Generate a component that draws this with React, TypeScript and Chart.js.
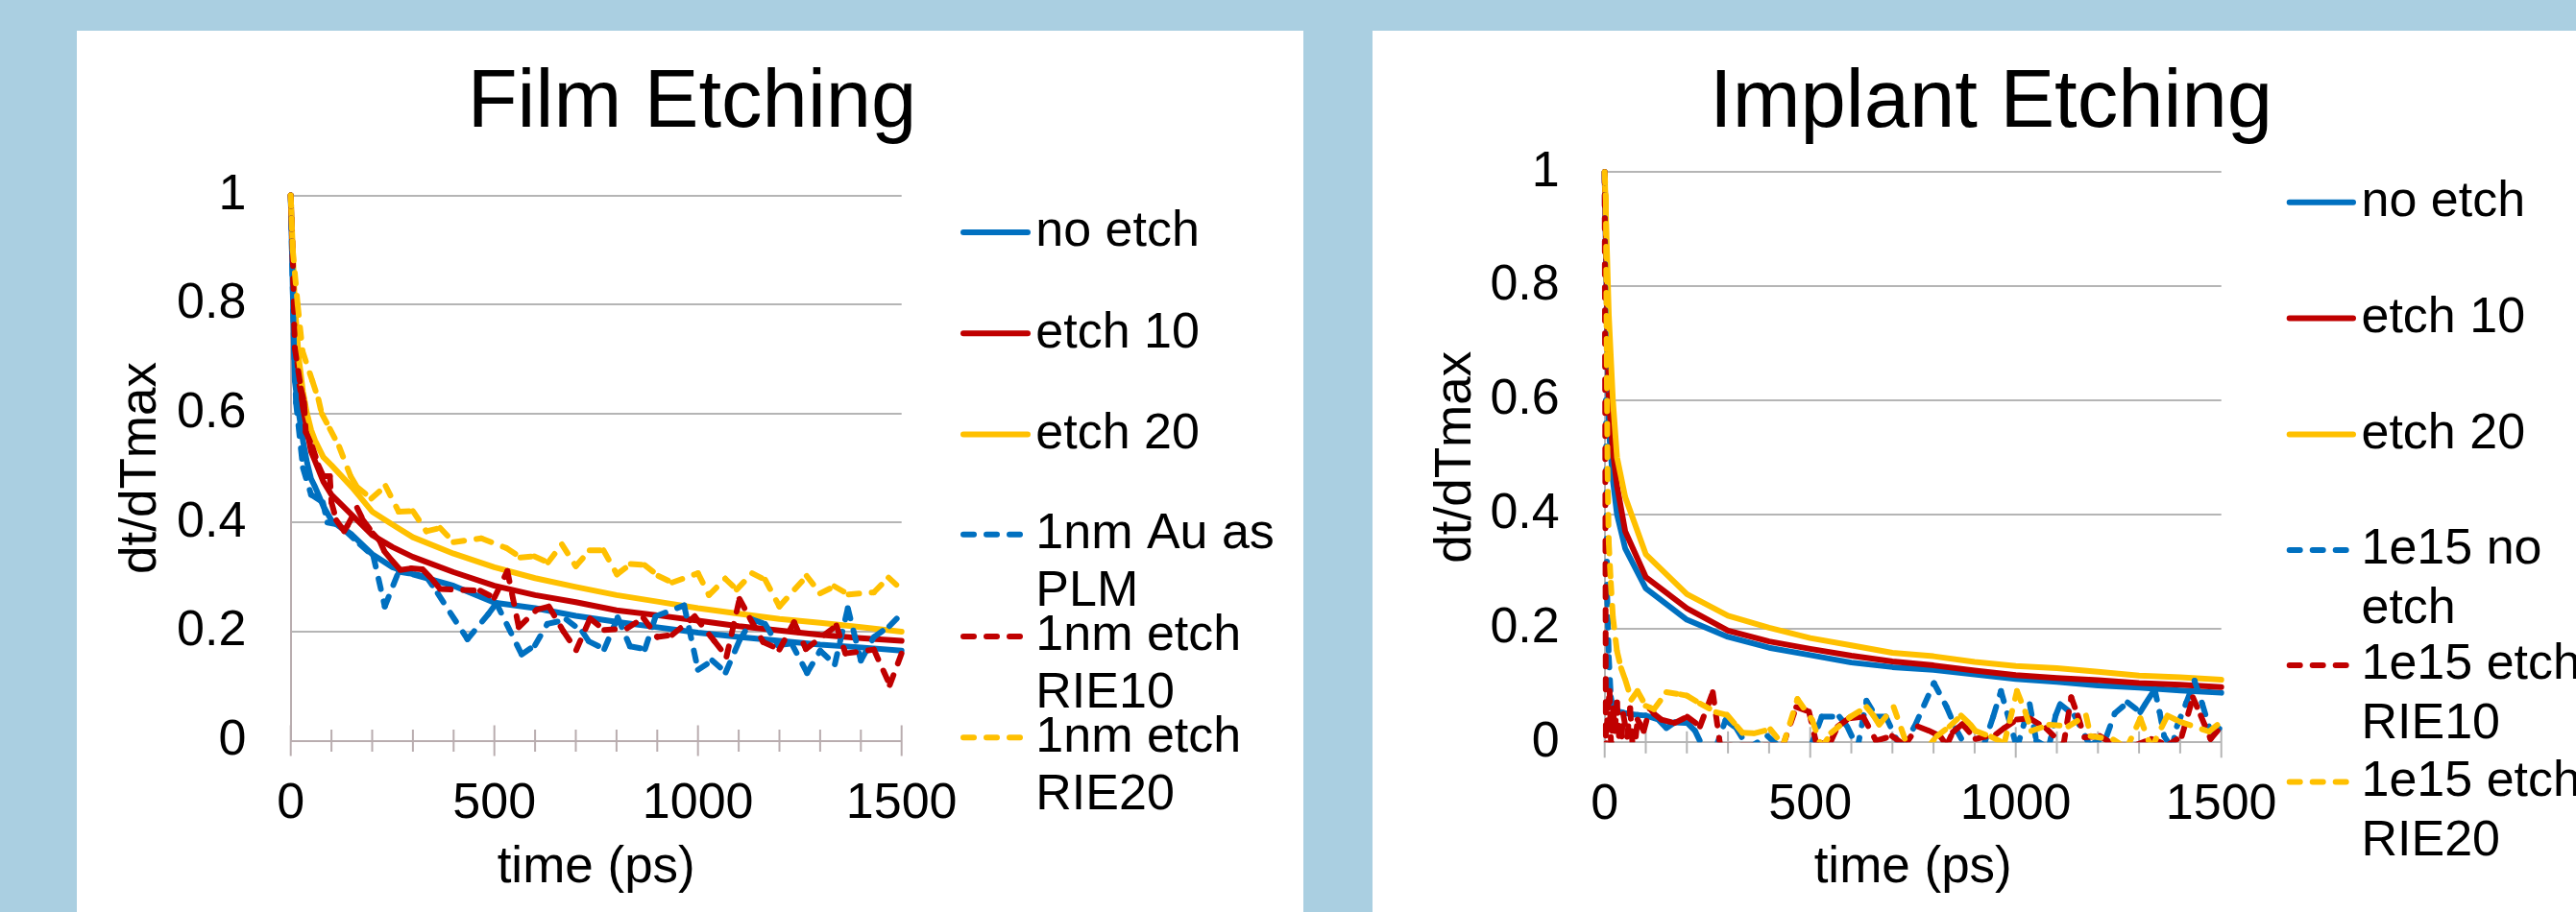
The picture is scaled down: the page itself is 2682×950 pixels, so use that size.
import React, { useEffect, useRef } from 'react';
import { Chart, registerables } from 'chart.js';

Chart.register(...registerables);

// ---------------- DATA ----------------
const BLUE = '#0070C0';
const RED = '#C00000';
const YELLOW = '#FFC000';

// Film Etching – solid series
const filmSolidT = [0, 10, 20, 30, 40, 50, 60, 80, 100, 150, 200, 250, 300, 400, 500, 600, 700, 800, 900, 1000, 1100, 1200, 1300, 1400, 1500];
const filmNoEtch = [1.0, 0.66, 0.6, 0.55, 0.51, 0.48, 0.465, 0.43, 0.404, 0.378, 0.342, 0.318, 0.305, 0.284, 0.253, 0.243, 0.229, 0.218, 0.208, 0.198, 0.19, 0.183, 0.176, 0.171, 0.165];
const filmEtch10 = [1.0, 0.75, 0.66, 0.61, 0.57, 0.53, 0.512, 0.475, 0.451, 0.414, 0.377, 0.355, 0.337, 0.309, 0.284, 0.267, 0.254, 0.239, 0.23, 0.22, 0.21, 0.202, 0.194, 0.188, 0.183];
const filmEtch20 = [1.0, 0.8, 0.7, 0.64, 0.6, 0.57, 0.55, 0.52, 0.505, 0.465, 0.42, 0.396, 0.373, 0.343, 0.318, 0.298, 0.282, 0.267, 0.255, 0.243, 0.233, 0.223, 0.216, 0.208, 0.2];

// Film Etching – dashed series
const filmPlmT = [0, 8, 13, 30, 50, 79, 90, 112, 135, 170, 203, 231, 265, 305, 333, 361, 434, 485, 505, 567, 600, 630, 677, 716, 732, 770, 803, 833, 870, 896, 966, 1000, 1035, 1068, 1102, 1133, 1165, 1196, 1230, 1268, 1300, 1336, 1368, 1400, 1432, 1470, 1500];
const filmPlmV = [1.0, 0.72, 0.62, 0.5, 0.451, 0.437, 0.4, 0.397, 0.384, 0.36, 0.338, 0.246, 0.31, 0.305, 0.301, 0.27, 0.186, 0.232, 0.252, 0.158, 0.175, 0.214, 0.222, 0.2, 0.182, 0.168, 0.226, 0.173, 0.168, 0.228, 0.248, 0.13, 0.147, 0.125, 0.184, 0.222, 0.214, 0.175, 0.178, 0.124, 0.165, 0.14, 0.243, 0.147, 0.19, 0.21, 0.233];
const filmRie10T = [0, 5, 10, 25, 33, 37, 53, 68, 80, 96, 100, 112, 131, 139, 163, 178, 202, 218, 230, 249, 269, 296, 324, 347, 367, 465, 500, 532, 560, 604, 634, 670, 701, 735, 770, 826, 866, 900, 937, 992, 1040, 1070, 1102, 1127, 1160, 1200, 1236, 1265, 1340, 1362, 1432, 1471, 1500];
const filmRie10V = [1.0, 0.89, 0.72, 0.646, 0.62, 0.566, 0.539, 0.505, 0.485, 0.485, 0.437, 0.404, 0.384, 0.394, 0.427, 0.404, 0.38, 0.367, 0.347, 0.33, 0.313, 0.316, 0.314, 0.296, 0.278, 0.275, 0.262, 0.311, 0.208, 0.24, 0.246, 0.2, 0.166, 0.224, 0.203, 0.206, 0.225, 0.19, 0.194, 0.228, 0.183, 0.154, 0.26, 0.225, 0.181, 0.167, 0.217, 0.168, 0.211, 0.16, 0.167, 0.102, 0.16];
const filmRie20T = [0, 5, 17, 29, 53, 68, 76, 96, 119, 147, 163, 198, 233, 265, 300, 333, 367, 400, 468, 530, 564, 598, 632, 666, 700, 734, 768, 801, 835, 869, 903, 937, 1000, 1027, 1067, 1095, 1133, 1165, 1200, 1267, 1300, 1335, 1370, 1432, 1468, 1500];
const filmRie20V = [1.0, 0.9, 0.8, 0.714, 0.66, 0.626, 0.6, 0.572, 0.539, 0.485, 0.465, 0.444, 0.467, 0.42, 0.421, 0.384, 0.39, 0.364, 0.371, 0.353, 0.336, 0.338, 0.327, 0.36, 0.32, 0.349, 0.349, 0.305, 0.324, 0.322, 0.302, 0.29, 0.307, 0.267, 0.297, 0.277, 0.307, 0.295, 0.246, 0.302, 0.27, 0.283, 0.268, 0.272, 0.299, 0.277];

// Implant Etching – solid series
const implSolidT = [0, 10, 20, 30, 50, 100, 200, 300, 400, 500, 600, 700, 800, 900, 1000, 1100, 1200, 1300, 1400, 1500];
const implNoEtch = [1.0, 0.55, 0.46, 0.4, 0.34, 0.27, 0.215, 0.185, 0.166, 0.153, 0.14, 0.132, 0.127, 0.119, 0.111, 0.106, 0.1, 0.096, 0.091, 0.087];
const implEtch10 = [1.0, 0.6, 0.51, 0.45, 0.37, 0.29, 0.235, 0.196, 0.177, 0.164, 0.152, 0.142, 0.135, 0.126, 0.118, 0.113, 0.109, 0.104, 0.101, 0.097];
const implEtch20 = [1.0, 0.75, 0.6, 0.5, 0.43, 0.33, 0.26, 0.222, 0.201, 0.183, 0.17, 0.157, 0.151, 0.141, 0.134, 0.13, 0.124, 0.117, 0.114, 0.11];

// Implant Etching – dashed series
const implNoT = [0, 3, 6, 10, 15, 20, 30, 45, 60, 80, 100, 130, 150, 170, 201, 220, 240, 270, 294, 320, 350, 396, 430, 470, 500, 528, 571, 590, 615, 637, 660, 684, 720, 754, 801, 832, 855, 880, 920, 945, 964, 1003, 1034, 1050, 1080, 1097, 1108, 1143, 1180, 1221, 1241, 1272, 1303, 1319, 1338, 1350, 1361, 1380, 1392, 1415, 1435, 1454, 1477, 1500];
const implNoV = [1.0, 0.6, 0.26, 0.15, 0.08, 0.06, 0.055, 0.052, 0.05, 0.048, 0.047, 0.04, 0.025, 0.035, 0.034, 0.02, -0.01, -0.01, 0.039, 0.025, -0.01, 0.011, -0.01, -0.01, -0.01, 0.045, 0.045, 0.028, -0.01, 0.073, 0.045, 0.045, -0.01, 0.028, 0.104, 0.062, 0.023, -0.01, -0.01, 0.045, 0.09, -0.01, 0.067, 0.003, -0.01, 0.047, 0.067, 0.047, -0.005, 0.011, 0.051, 0.07, 0.053, 0.072, 0.093, 0.053, 0.011, -0.01, 0.028, 0.07, 0.108, 0.067, 0.011, 0.028];
const implRie10T = [0, 3, 8, 12, 16, 20, 25, 30, 38, 45, 55, 62, 70, 80, 95, 110, 120, 138, 170, 201, 232, 263, 281, 333, 434, 466, 497, 516, 551, 567, 594, 629, 660, 699, 730, 762, 790, 816, 832, 847, 870, 902, 952, 972, 1003, 1034, 1073, 1116, 1135, 1151, 1167, 1205, 1240, 1291, 1330, 1370, 1404, 1431, 1450, 1474, 1500];
const implRie10V = [1.0, -0.02, 0.06, 0.09, -0.02, 0.06, 0.02, 0.07, -0.03, 0.05, 0.01, 0.06, -0.03, 0.04, 0.02, 0.06, 0.05, 0.04, 0.034, 0.045, 0.028, 0.088, -0.005, -0.005, -0.005, 0.062, 0.054, -0.005, 0.003, 0.028, 0.042, 0.045, 0.003, 0.011, -0.005, 0.028, 0.02, 0.011, -0.005, 0.018, 0.032, 0.006, 0.014, 0.025, 0.04, 0.042, 0.025, -0.005, 0.079, 0.047, 0.009, 0.011, -0.005, -0.005, 0.006, -0.005, 0.011, 0.079, 0.047, 0.006, 0.028];
const implRie20T = [0, 3, 5, 7, 10, 15, 20, 30, 40, 50, 65, 80, 100, 120, 150, 185, 200, 232, 271, 298, 322, 335, 364, 403, 434, 469, 505, 528, 551, 598, 637, 653, 668, 703, 738, 785, 808, 839, 867, 890, 902, 940, 972, 1003, 1023, 1038, 1081, 1128, 1171, 1182, 1237, 1270, 1303, 1330, 1369, 1400, 1470, 1500];
const implRie20V = [1.0, 0.95, 0.68, 0.48, 0.35, 0.28, 0.22, 0.16, 0.13, 0.11, 0.075, 0.09, 0.064, 0.058, 0.088, 0.084, 0.082, 0.068, 0.053, 0.048, 0.028, 0.017, 0.016, 0.023, -0.005, 0.076, 0.039, -0.01, 0.017, 0.045, 0.062, 0.048, 0.031, 0.062, -0.01, -0.01, 0.011, 0.028, 0.047, 0.031, 0.02, 0.01, -0.002, 0.09, 0.054, 0.02, 0.031, 0.028, 0.047, 0.011, 0.005, -0.01, 0.042, -0.01, 0.047, 0.036, 0.019, 0.036];

// Labels
const filmLabels = [['no etch'], ['etch 10'], ['etch 20'], ['1nm Au as', 'PLM'], ['1nm etch', 'RIE10'], ['1nm etch', 'RIE20']];
const implLabels = [['no etch'], ['etch 10'], ['etch 20'], ['1e15 no', 'etch'], ['1e15 etch', 'RIE10'], ['1e15 etch', 'RIE20']];
const filmTitle = 'Film Etching';
const implTitle = 'Implant Etching';
const xAxisTitle = 'time (ps)';
const yAxisTitle = 'dt/dTmax';
const xMin = 0, xMax = 1500, xLabelStep = 500, xMinorStep = 100;
const yMin = 0, yMax = 1, yStep = 0.2;

// ---------------- STYLE / LAYOUT ----------------
const FAMILY = "'Liberation Sans', Arial, Helvetica, sans-serif";
const LINE_W = 6;
const DASH = [11, 13];

type Series = { label: string[]; t: number[]; v: number[]; color: string; dashed: boolean };

const filmSeries: Series[] = [
  { label: filmLabels[0], t: filmSolidT, v: filmNoEtch, color: BLUE, dashed: false },
  { label: filmLabels[1], t: filmSolidT, v: filmEtch10, color: RED, dashed: false },
  { label: filmLabels[2], t: filmSolidT, v: filmEtch20, color: YELLOW, dashed: false },
  { label: filmLabels[3], t: filmPlmT, v: filmPlmV, color: BLUE, dashed: true },
  { label: filmLabels[4], t: filmRie10T, v: filmRie10V, color: RED, dashed: true },
  { label: filmLabels[5], t: filmRie20T, v: filmRie20V, color: YELLOW, dashed: true },
];
const implSeries: Series[] = [
  { label: implLabels[0], t: implSolidT, v: implNoEtch, color: BLUE, dashed: false },
  { label: implLabels[1], t: implSolidT, v: implEtch10, color: RED, dashed: false },
  { label: implLabels[2], t: implSolidT, v: implEtch20, color: YELLOW, dashed: false },
  { label: implLabels[3], t: implNoT, v: implNoV, color: BLUE, dashed: true },
  { label: implLabels[4], t: implRie10T, v: implRie10V, color: RED, dashed: true },
  { label: implLabels[5], t: implRie20T, v: implRie20V, color: YELLOW, dashed: true },
];

type PanelLayout = {
  left: number; top: number; width: number; height: number;
  pad: { left: number; right: number; top: number; bottom: number };
  yWidth: number; xHeight: number;
  titleX: number; titleY: number;
  yTitlePad: number; xTitlePad: number; xTickPad: number; yTickPad: number;
  axisColor: string; gridColor: string;
  legend: { lineX: number; solidEnd: number; textX: number; rows: number[]; lineHeight: number };
};

const filmLayout: PanelLayout = {
  left: 80, top: 32, width: 1277, height: 918,
  pad: { left: 22.7, right: 418.3, top: 171.5, bottom: 13.5 },
  yWidth: 200, xHeight: 165,
  titleX: 640.5, titleY: 100,
  yTitlePad: 13.3, xTitlePad: 0.1, xTickPad: 35, yTickPad: 46.3,
  axisColor: '#b9adaf', gridColor: '#b5b5b5',
  legend: { lineX: 920, solidEnd: 993, textX: 998.3, rows: [209.9, 315.2, 420.4, 524.7, 631, 736.2], lineHeight: 60 },
};
const implLayout: PanelLayout = {
  left: 1429, top: 32, width: 1280, height: 918,
  pad: { left: 41.7, right: 396.3, top: 147.3, bottom: 11.7 },
  yWidth: 200, xHeight: 165,
  titleX: 644, titleY: 100,
  yTitlePad: 14.1, xTitlePad: 1.9, xTickPad: 34.5, yTickPad: 47,
  axisColor: '#b5b5b5', gridColor: '#b5b5b5',
  legend: { lineX: 951.7, solidEnd: 1024, textX: 1029.5, rows: [178.8, 299.4, 420.4, 541, 661.1, 782.6], lineHeight: 62 },
};

function EtchChart({ title, series, layout }: { title: string; series: Series[]; layout: PanelLayout }) {
  const ref = useRef<HTMLCanvasElement>(null);

  useEffect(() => {
    const canvas = ref.current;
    if (!canvas) return;

    const datasets = series.map((s, i) => ({
      label: s.label.join(' '),
      data: s.t.map((x, k) => ({ x, y: s.v[k] })),
      borderColor: s.color,
      backgroundColor: s.color,
      borderWidth: LINE_W,
      borderCapStyle: 'round' as const,
      borderJoinStyle: 'round' as const,
      borderDash: s.dashed ? DASH : [],
      pointRadius: 0,
      pointHoverRadius: 0,
      tension: 0,
      fill: false,
      order: series.length - i,
      clip: { left: 4, right: 4, top: 4, bottom: 0 },
      segment: s.dashed
        ? { borderDashOffset: (ctx: any) => (ctx.p0DataIndex % 2 ? 0.01 : 0) }
        : undefined,
    }));

    const ticksPlugin = {
      id: 'axisTickMarks',
      beforeDatasetsDraw(chart: any) {
        const ctx = chart.ctx;
        const xs = chart.scales.x;
        const y0 = chart.chartArea.bottom;
        ctx.save();
        ctx.strokeStyle = layout.axisColor;
        ctx.lineWidth = 2;
        for (let t = xMin; t <= xMax; t += xMinorStep) {
          const px = xs.getPixelForValue(t);
          const major = t % xLabelStep === 0;
          const len = major ? 16 : 11.5;
          ctx.beginPath();
          ctx.moveTo(px, y0 - len);
          ctx.lineTo(px, y0 + len);
          ctx.stroke();
        }
        ctx.restore();
      },
    };

    const decorPlugin = {
      id: 'titleAndLegend',
      afterDraw(chart: any) {
        const ctx = chart.ctx;
        ctx.save();
        ctx.fillStyle = '#000';
        ctx.font = `85px ${FAMILY}`;
        ctx.textAlign = 'center';
        ctx.textBaseline = 'alphabetic';
        ctx.fillText(title, layout.titleX, layout.titleY);

        const lg = layout.legend;
        series.forEach((s, i) => {
          const y = lg.rows[i];
          ctx.strokeStyle = s.color;
          ctx.lineWidth = LINE_W;
          ctx.lineCap = 'round';
          const x0 = lg.lineX + LINE_W / 2;
          ctx.setLineDash(s.dashed ? DASH : []);
          ctx.beginPath();
          ctx.moveTo(x0, y);
          ctx.lineTo(s.dashed ? x0 + DASH[0] * 3 + DASH[1] * 2 : lg.solidEnd - LINE_W / 2, y);
          ctx.stroke();
          ctx.setLineDash([]);
          ctx.fillStyle = '#000';
          ctx.font = `52px ${FAMILY}`;
          ctx.textAlign = 'left';
          ctx.textBaseline = 'middle';
          s.label.forEach((line, k) => ctx.fillText(line, lg.textX, y + k * lg.lineHeight));
        });
        ctx.restore();
      },
    };

    const chart = new Chart(canvas, {
      type: 'line',
      data: { datasets: datasets as any },
      options: {
        responsive: false,
        animation: false,
        devicePixelRatio: 1,
        events: [],
        layout: { padding: layout.pad },
        plugins: {
          legend: { display: false },
          title: { display: false },
          tooltip: { enabled: false },
        },
        scales: {
          x: {
            type: 'linear',
            min: xMin,
            max: xMax,
            afterFit: (s: any) => { s.height = layout.xHeight; },
            grid: { display: false, drawTicks: false },
            border: { display: true, color: layout.axisColor, width: 2 },
            ticks: {
              stepSize: xLabelStep,
              autoSkip: false,
              maxRotation: 0,
              padding: layout.xTickPad,
              color: '#000',
              font: { family: FAMILY, size: 52 },
              callback: (v: any) => String(v),
            },
            title: {
              display: true,
              text: xAxisTitle,
              color: '#000',
              font: { family: FAMILY, size: 53 },
              padding: { top: 0, bottom: layout.xTitlePad },
            },
          },
          y: {
            type: 'linear',
            min: yMin,
            max: yMax,
            afterFit: (s: any) => { s.width = layout.yWidth; },
            grid: {
              color: (c: any) => (c.tick && c.tick.value === 0 ? 'rgba(0,0,0,0)' : layout.gridColor),
              lineWidth: 2,
              drawTicks: false,
            },
            border: { display: true, color: layout.axisColor, width: 2 },
            ticks: {
              stepSize: yStep,
              padding: layout.yTickPad,
              color: '#000',
              font: { family: FAMILY, size: 52 },
              callback: (v: any) => String(Math.round(Number(v) * 10) / 10),
            },
            title: {
              display: true,
              text: yAxisTitle,
              color: '#000',
              font: { family: FAMILY, size: 53 },
              padding: { top: layout.yTitlePad, bottom: 0 },
            },
          },
        },
      } as any,
      plugins: [ticksPlugin, decorPlugin],
    });

    return () => chart.destroy();
  }, [title, series, layout]);

  return (
    <canvas
      ref={ref}
      width={layout.width}
      height={layout.height}
      style={{ position: 'absolute', left: 0, top: 0, width: layout.width, height: layout.height }}
    />
  );
}

function Panel({ title, series, layout }: { title: string; series: Series[]; layout: PanelLayout }) {
  return (
    <div
      style={{
        position: 'absolute',
        left: layout.left,
        top: layout.top,
        width: layout.width,
        height: layout.height,
        background: '#ffffff',
      }}
    >
      <EtchChart title={title} series={series} layout={layout} />
    </div>
  );
}

export default function App() {
  return (
    <div
      style={{
        position: 'absolute',
        left: 0,
        top: 0,
        width: 2682,
        height: 950,
        background: '#aacfe1',
        overflow: 'hidden',
      }}
    >
      <Panel title={filmTitle} series={filmSeries} layout={filmLayout} />
      <Panel title={implTitle} series={implSeries} layout={implLayout} />
    </div>
  );
}
